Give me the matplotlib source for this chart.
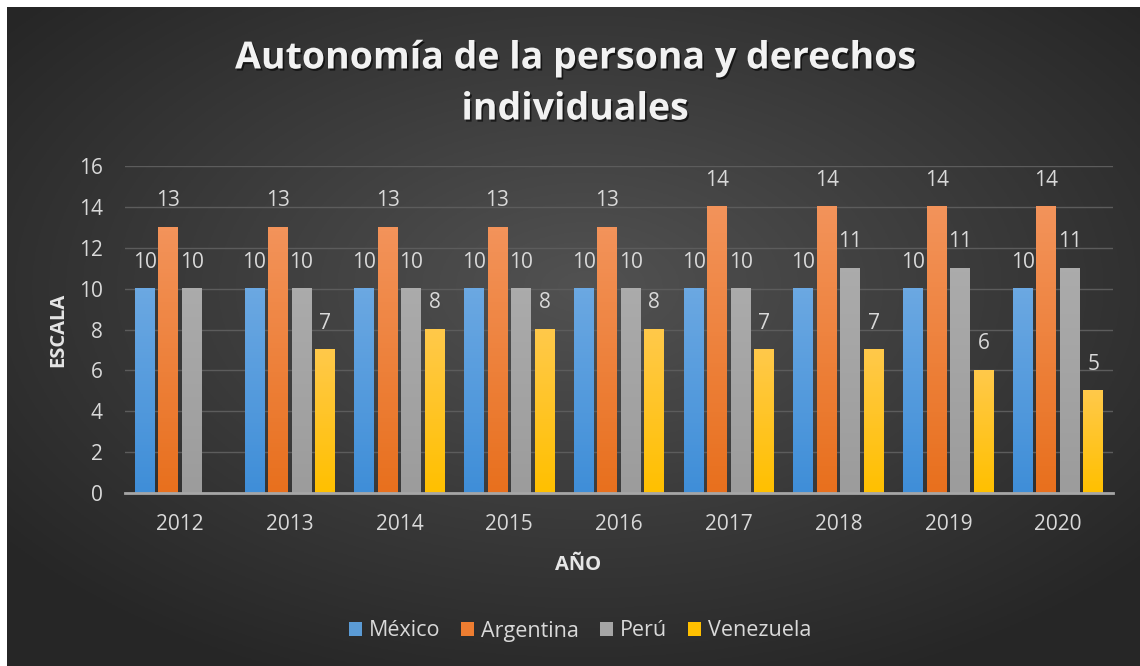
import matplotlib.pyplot as plt
import matplotlib.patheffects as pe
from matplotlib.colors import LinearSegmentedColormap
import numpy as np

# Data
years = ["2012", "2013", "2014", "2015", "2016", "2017", "2018", "2019", "2020"]
mexico = [10, 10, 10, 10, 10, 10, 10, 10, 10]
argentina = [13, 13, 13, 13, 13, 14, 14, 14, 14]
peru = [10, 10, 10, 10, 10, 10, 11, 11, 11]
venezuela = [np.nan, 7, 8, 8, 8, 7, 7, 6, 5]

series_names = ["México", "Argentina", "Perú", "Venezuela"]
colors = ["#5B9BD5", "#ED7D31", "#A5A5A5", "#FFC000"]
# (bottom, top) colours for the slight gradient inside each bar
grads = [("#3f8ed8", "#6ba8e2"), ("#e8701e", "#f3935a"), ("#9c9c9c", "#ababab"), ("#ffc000", "#ffc94a")]

plt.rcParams['font.family'] = ['Open Sans', 'DejaVu Sans']
W, H = 1140, 666
fig = plt.figure(figsize=(W / 100, H / 100), dpi=100, facecolor='white')

# radial gradient background (thin white frame top/left)
bg = fig.add_axes([7 / W, 0, 1 - 7 / W, 1 - 7 / H])
gx, gy = np.meshgrid(np.linspace(-1, 1, 400), np.linspace(-1, 1, 240))
r = np.sqrt((gx - 0.02) ** 2 + (gy + 0.15) ** 2)
r = np.clip(r / 1.3, 0, 1)
shade = 0.32 - 0.17 * r
bg.imshow(np.dstack([shade, shade, shade]), aspect='auto', extent=[0, 1, 0, 1])
bg.axis('off')

# plot area
x0, x1 = 125, 1113
y0, y1 = 493, 166
ax = fig.add_axes([x0 / W, 1 - y0 / H, (x1 - x0) / W, (y0 - y1) / H])
ax.patch.set_alpha(0)

x = np.arange(len(years))
step = 0.214
width = 0.18
grad_img = np.linspace(1, 0, 64).reshape(-1, 1)
for i, (vals, name, c) in enumerate(zip([mexico, argentina, peru, venezuela], series_names, colors)):
    pos = x + (i - 1.5) * step
    ax.bar(pos, vals, width=width, color=c, label=name, zorder=3)
    cmap = LinearSegmentedColormap.from_list(name, grads[i])
    for p, v in zip(pos, vals):
        if np.isnan(v):
            continue
        ax.imshow(grad_img, cmap=cmap, aspect='auto', extent=(p - width / 2, p + width / 2, 0, v),
                  zorder=3.5, vmin=0, vmax=1)
        ax.text(p, v + 1.3, f"{v:g}", ha='center', va='center', color='#d9d9d9', fontsize=15)

ax.set_xlim(-0.5, len(years) - 0.5)
ax.set_ylim(0, 16)
ax.set_yticks(range(0, 17, 2))
ax.set_xticks(x)
ax.set_xticklabels(years)
ax.grid(axis='y', color='#5c5c5c', linewidth=1, zorder=0)
ax.set_axisbelow(True)
for s in ['top', 'right', 'left']:
    ax.spines[s].set_visible(False)
ax.spines['bottom'].set_color('#a6a6a6')
ax.spines['bottom'].set_linewidth(2)
ax.spines['bottom'].set_zorder(4)
ax.tick_params(axis='both', length=0, colors='#d9d9d9', labelsize=15)
ax.tick_params(axis='x', pad=15)
ax.tick_params(axis='y', pad=16)

ax.set_ylabel("ESCALA", color='#e6e6e6', fontsize=14.5, fontweight='bold', va='center')
ax.yaxis.set_label_coords((58 - x0) / (x1 - x0), (y0 - 330) / (y0 - y1))
ax.set_xlabel("AÑO", color='#e6e6e6', fontsize=14.5, fontweight='bold', va='center')
ax.xaxis.set_label_coords((578 - x0) / (x1 - x0), -(565 - y0) / (y0 - y1))

fig.text(575 / W, 1 - 84 / H, "Autonomía de la persona y derechos\nindividuales",
         ha='center', va='center', color='#f2f2f2', fontsize=27, fontweight='bold',
         linespacing=1.45,
         path_effects=[pe.withSimplePatchShadow(offset=(1.2, -1.5), shadow_rgbFace='black', alpha=0.6)])

fig.legend(loc='center', bbox_to_anchor=(580 / W, 1 - 631 / H), ncol=4, frameon=False,
           fontsize=15.5, labelcolor='#d9d9d9', handlelength=0.6, handleheight=0.6,
           handletextpad=0.3, columnspacing=1.0)

plt.savefig("out.png", dpi=100, facecolor=fig.get_facecolor())
